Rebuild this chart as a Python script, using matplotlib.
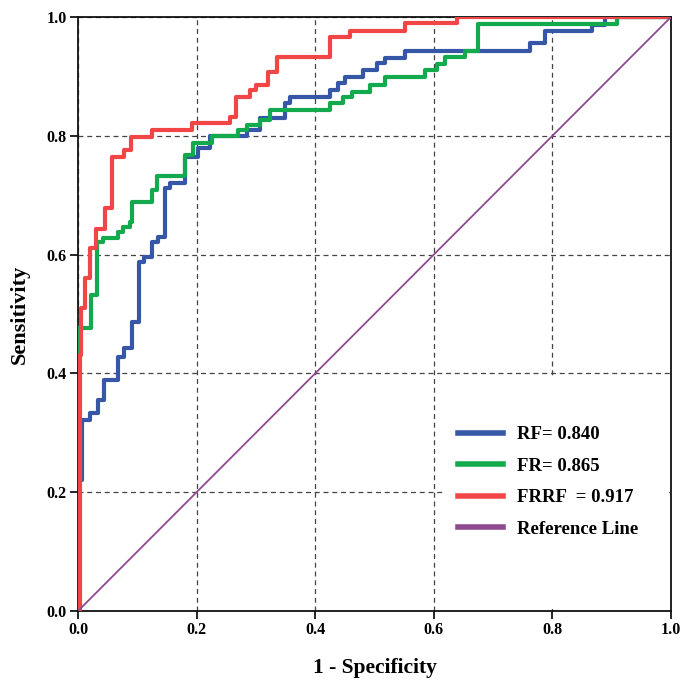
import matplotlib
matplotlib.use("Agg")
import matplotlib.pyplot as plt
from matplotlib.patches import Rectangle

# ROC step corners (1 - specificity, sensitivity)
rf_fpr = [0, 0, 0.007, 0.020, 0.034, 0.044, 0.068, 0.078, 0.091, 0.103, 0.111,
          0.125, 0.135, 0.147, 0.155, 0.180, 0.202, 0.223, 0.285, 0.307, 0.349,
          0.357, 0.425, 0.438, 0.450, 0.480, 0.504, 0.518, 0.551, 0.762, 0.788,
          0.867, 0.889, 1.0]
rf_tpr = [0, 0.220, 0.322, 0.333, 0.355, 0.389, 0.428, 0.443, 0.487, 0.588, 0.596,
          0.621, 0.630, 0.712, 0.720, 0.764, 0.780, 0.800, 0.810, 0.830, 0.855,
          0.865, 0.877, 0.889, 0.899, 0.911, 0.922, 0.931, 0.943, 0.956, 0.976,
          0.987, 1.0, 1.0]

fr_fpr = [0, 0, 0.022, 0.032, 0.042, 0.068, 0.076, 0.088, 0.091, 0.125, 0.133,
          0.180, 0.194, 0.226, 0.270, 0.285, 0.307, 0.324, 0.425, 0.447, 0.462,
          0.492, 0.518, 0.585, 0.605, 0.619, 0.653, 0.675, 0.909, 1.0]
fr_tpr = [0, 0.476, 0.532, 0.621, 0.628, 0.638, 0.646, 0.655, 0.689, 0.709, 0.732,
          0.768, 0.788, 0.800, 0.810, 0.818, 0.827, 0.843, 0.855, 0.865, 0.874,
          0.886, 0.899, 0.911, 0.921, 0.933, 0.943, 0.988, 1.0, 1.0]

frrf_fpr = [0, 0.003, 0.005, 0.012, 0.021, 0.031, 0.046, 0.057, 0.078, 0.090,
            0.124, 0.192, 0.256, 0.267, 0.290, 0.300, 0.320, 0.335, 0.425, 0.459,
            0.551, 0.639, 1.0]
frrf_tpr = [0, 0.431, 0.510, 0.560, 0.611, 0.643, 0.678, 0.764, 0.776, 0.798,
            0.810, 0.821, 0.832, 0.865, 0.877, 0.886, 0.907, 0.933, 0.966, 0.976,
            0.990, 1.0, 1.0]

labels = ["RF= 0.840", "FR= 0.865", "FRRF  = 0.917", "Reference Line"]
colors = ["#3656a6", "#12aa4c", "#f24646", "#8e4a8e"]

plt.rcParams["font.family"] = ["Liberation Serif", "DejaVu Serif"]
plt.rcParams["font.weight"] = "bold"

fig = plt.figure(figsize=(6.81, 6.83), dpi=100)
ax = fig.add_axes([0.1145, 0.1054, 0.8708, 0.8697])

ax.plot(rf_fpr, rf_tpr, drawstyle="steps-post", color=colors[0], lw=3, label=labels[0], zorder=3)
ax.plot(fr_fpr, fr_tpr, drawstyle="steps-post", color=colors[1], lw=3, label=labels[1], zorder=4)
ax.plot(frrf_fpr, frrf_tpr, drawstyle="steps-post", color=colors[2], lw=3, label=labels[2], zorder=5)
ax.plot([0, 1], [0, 1], color=colors[3], lw=1.3, label=labels[3], zorder=6)

ax.set_xlim(0, 1)
ax.set_ylim(0, 1)
ax.set_xticks([0, 0.2, 0.4, 0.6, 0.8, 1.0])
ax.set_yticks([0, 0.2, 0.4, 0.6, 0.8, 1.0])
ax.set_xticklabels(["0.0", "0.2", "0.4", "0.6", "0.8", "1.0"])
ax.set_yticklabels(["0.0", "0.2", "0.4", "0.6", "0.8", "1.0"])
ax.tick_params(direction="out", length=6, width=1.2, pad=2, labelsize=11.5)

ax.set_axisbelow(True)
ax.grid(True, color="#444444", lw=0.9, linestyle=(0, (4, 3)))

# white block behind the legend hides the grid there
ax.add_patch(Rectangle((0.615, 0.003), 0.382, 0.39, transform=ax.transAxes,
                       facecolor="white", edgecolor="none", zorder=1))

for s in ax.spines.values():
    s.set_linewidth(1.3)
    s.set_color("#111111")

ax.set_xlabel("1 - Specificity", fontsize=15.5, fontweight="bold", labelpad=14)
ax.set_ylabel("Sensitivity", fontsize=16, fontweight="bold", labelpad=12)

leg = ax.legend(loc="upper left", bbox_to_anchor=(0.64, 0.311), frameon=False,
                fontsize=13.5, borderpad=0, borderaxespad=0, labelspacing=0.76,
                handlelength=2.4, handletextpad=0.75)
for ln in leg.get_lines():
    ln.set_linewidth(4)
for t in leg.get_texts():
    t.set_fontweight("bold")

fig.savefig("out.png", dpi=100)
